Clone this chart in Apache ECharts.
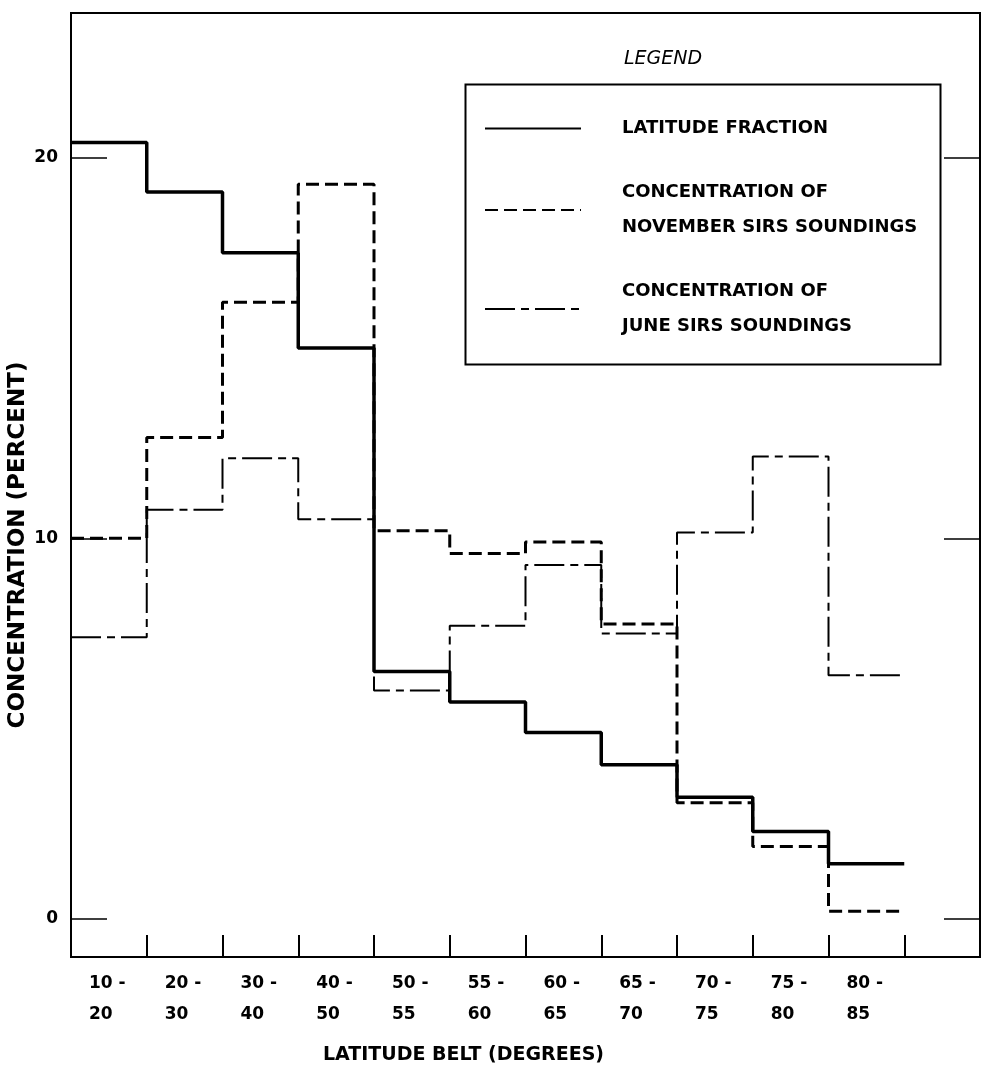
<!DOCTYPE html>
<html>
<head>
<meta charset="utf-8">
<script src="https://cdn.jsdelivr.net/npm/echarts@6/dist/echarts.min.js"></script>
<style>
  html, body { margin: 0; padding: 0; background: #fff; }
  #chart { width: 985px; height: 1071px; }
</style>
</head>
<body>
<div id="chart"></div>
<script>
// ---- data ----
const beltLabels = ['10 -\n20', '20 -\n30', '30 -\n40', '40 -\n50', '50 -\n55', '55 -\n60',
                    '60 -\n65', '65 -\n70', '70 -\n75', '75 -\n80', '80 -\n85', ''];
const latitudeFraction = [20.4, 19.1, 17.5, 15.0, 6.5, 5.7, 4.9, 4.05, 3.2, 2.3, 1.45];
const novemberSirs     = [10.0, 12.65, 16.2, 19.3, 10.2, 9.6, 9.9, 7.75, 3.05, 1.9, 0.2];
const juneSirs         = [7.4, 10.75, 12.1, 10.5, 6.0, 7.7, 9.3, 7.5, 10.15, 12.15, 6.4];
const yTickValues = [0, 10, 20];
const seriesNames = ['LATITUDE FRACTION', 'CONCENTRATION OF\nNOVEMBER SIRS SOUNDINGS', 'CONCENTRATION OF\nJUNE SIRS SOUNDINGS'];

function stepData(vals) {
  const d = vals.map((v, i) => [i, v]);
  d.push([vals.length, vals[vals.length - 1]]);
  return d;
}

const FONT = 'DejaVu Sans';
const chart = echarts.init(document.getElementById('chart'));
chart.setOption({
  backgroundColor: '#fff',
  animation: false,
  color: ['#000', '#000', '#000'],
  title: {
    text: 'LEGEND', left: 619, top: 45,
    textStyle: { fontFamily: FONT, fontStyle: 'italic', fontWeight: 'normal', fontSize: 19, color: '#000' }
  },
  grid: { left: 71, right: 5, top: 13, bottom: 114, containLabel: false, outerBoundsMode: 'none',
          show: true, borderColor: '#000', borderWidth: 2, backgroundColor: 'transparent' },
  graphic: [{
    type: 'rect', left: 463, top: 82, z: 10,
    shape: { width: 475, height: 280 },
    style: { fill: 'none', stroke: '#000', lineWidth: 2 }
  }],
  legend: {
    orient: 'vertical', left: 484, top: 111, padding: 0,
    itemWidth: 96, itemHeight: 14, itemGap: 29,
    data: seriesNames,
    itemStyle: { opacity: 0 },
    textStyle: { fontFamily: FONT, fontWeight: 'bold', fontSize: 18, lineHeight: 35, color: '#000', padding: [0, 0, 0, 36] }
  },
  xAxis: [{
    type: 'value', min: 0, max: 12, interval: 1, position: 'bottom',
    axisLine: { show: true, onZero: false, lineStyle: { color: '#000', width: 2 } },
    axisTick: { show: true, inside: true, length: 22, lineStyle: { color: '#000', width: 2 } },
    axisLabel: { show: false },
    splitLine: { show: false },
    name: 'LATITUDE BELT (DEGREES)', nameLocation: 'middle', nameGap: 89, nameMoveOverlap: false,
    nameTextStyle: { fontFamily: FONT, fontWeight: 'bold', fontSize: 19, color: '#000', padding: [0, 124, 0, 0] }
  }, {
    type: 'category', data: beltLabels, position: 'bottom', boundaryGap: true,
    axisLine: { show: false, onZero: false }, axisTick: { show: false }, splitLine: { show: false },
    axisLabel: {
      interval: 0, margin: 11,
      formatter: v => v ? v.split('\n').map(s => '{a|' + s + '}').join('\n') : '',
      rich: { a: { fontFamily: FONT, fontWeight: 'bold', fontSize: 17, color: '#000', width: 40, align: 'left', lineHeight: 31 } }
    }
  }],
  yAxis: [{
    type: 'value', min: -1, max: 23.8, position: 'left',
    axisLine: { show: true, onZero: false, lineStyle: { color: '#000', width: 2 } },
    axisTick: { show: true, inside: true, length: 36, customValues: yTickValues, lineStyle: { color: '#000', width: 1.5 } },
    axisLabel: { show: true, customValues: yTickValues, margin: 13, fontFamily: FONT, fontWeight: 'bold', fontSize: 17, color: '#000' },
    splitLine: { show: false },
    name: 'CONCENTRATION (PERCENT)', nameLocation: 'middle', nameGap: 41, nameRotate: 90, nameMoveOverlap: false,
    nameTextStyle: { fontFamily: FONT, fontWeight: 'bold', fontSize: 23, color: '#000', padding: [0, 120, 0, 0] }
  }, {
    type: 'value', min: -1, max: 23.8, position: 'right',
    axisLine: { show: true, onZero: false, lineStyle: { color: '#000', width: 2 } },
    axisTick: { show: true, inside: true, length: 36, customValues: yTickValues, lineStyle: { color: '#000', width: 1.5 } },
    axisLabel: { show: false },
    splitLine: { show: false }
  }],
  series: [{
    name: seriesNames[2], type: 'line', step: 'end', symbol: 'none', xAxisIndex: 0, yAxisIndex: 0,
    data: stepData(juneSirs), z: 2,
    lineStyle: { color: '#000', width: 2, type: [30, 6, 8, 6] }
  }, {
    name: seriesNames[1], type: 'line', step: 'end', symbol: 'none', xAxisIndex: 0, yAxisIndex: 0,
    data: stepData(novemberSirs), z: 3,
    lineStyle: { color: '#000', width: 3, type: [13, 6] }
  }, {
    name: seriesNames[0], type: 'line', step: 'end', symbol: 'none', xAxisIndex: 0, yAxisIndex: 0,
    data: stepData(latitudeFraction), z: 4,
    lineStyle: { color: '#000', width: 3.5, type: 'solid' }
  }]
});
</script>
</body>
</html>
